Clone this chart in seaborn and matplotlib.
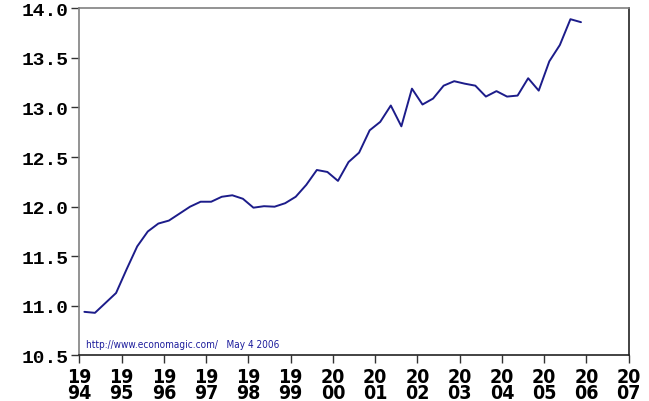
import numpy as np
import pandas as pd
import seaborn as sns
import matplotlib.pyplot as plt

# ______________________________________________________ DATA (quarterly, 1994Q1 - 2005Q4)
years = np.repeat(np.arange(1994, 2006), 4)
quarters = np.tile([1, 2, 3, 4], 12)
values = [10.94, 10.93, 11.03, 11.13,
          11.37, 11.60, 11.75, 11.83,
          11.86, 11.93, 12.00, 12.05,
          12.05, 12.10, 12.115, 12.08,
          11.99, 12.005, 12.00, 12.035,
          12.10, 12.22, 12.37, 12.35,
          12.26, 12.45, 12.545, 12.77,
          12.855, 13.02, 12.81, 13.19,
          13.03, 13.09, 13.22, 13.265,
          13.24, 13.22, 13.11, 13.165,
          13.11, 13.12, 13.295, 13.17,
          13.465, 13.63, 13.89, 13.86]
x_ticks = list(range(1994, 2008))
x_labels = [str(y)[:2] + "\n" + str(y)[2:] for y in x_ticks]
y_ticks = [10.5, 11.0, 11.5, 12.0, 12.5, 13.0, 13.5, 14.0]
note = "http://www.economagic.com/   May 4 2006"

df = pd.DataFrame({"year": years, "quarter": quarters, "value": values})
df["t"] = df["year"] + (df["quarter"] - 1) / 4 + 0.12

# ______________________________________________________ PLOT
sns.set_style("white")
plt.rcParams["text.color"] = "black"
plt.rcParams["xtick.color"] = "black"
plt.rcParams["ytick.color"] = "black"

fig = plt.figure(figsize=(6.49, 4.02), dpi=100)
ax = fig.add_axes([0.1222, 0.1132, 0.8466, 0.8637])

sns.lineplot(x="t", y="value", data=df, ax=ax, color="#1c1c8a", linewidth=1.4)

ax.set_xlim(1994, 2007)
ax.set_ylim(10.5, 14.0)
ax.set_xticks(x_ticks)
ax.set_xticklabels(x_labels, fontfamily=["Liberation Sans Narrow", "DejaVu Sans"],
                   fontstretch="condensed", fontweight="bold", fontsize=14,
                   linespacing=0.85, color="black")
ax.set_yticks(y_ticks)
ax.set_yticklabels([f"{v:.1f}" for v in y_ticks], fontfamily="Liberation Mono",
                   fontweight="bold", fontsize=14, color="black")
ax.set_xlabel("")
ax.set_ylabel("")

for side in ["left", "top"]:
    ax.spines[side].set_color("#808080")
for side in ["right", "bottom"]:
    ax.spines[side].set_color("#222222")
for s in ax.spines.values():
    s.set_linewidth(1.2)
ax.tick_params(axis="both", direction="out", length=6, width=1, color="#333333",
               left=True, bottom=True, pad=2)

ax.text(0.013, 0.025, note, transform=ax.transAxes, color="#1c1c9c",
        fontsize=7.2, fontfamily=["Liberation Sans Narrow", "DejaVu Sans"],
        fontstretch="condensed")

fig.savefig("out.png", dpi=100)
